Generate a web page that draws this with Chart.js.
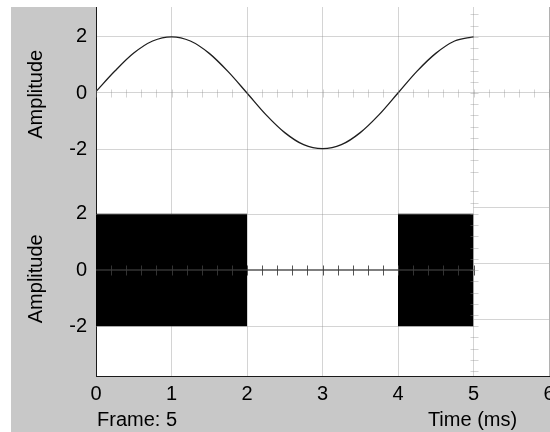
<!DOCTYPE html>
<html>
<head>
<meta charset="utf-8">
<script src="https://cdn.jsdelivr.net/npm/chart.js@4/dist/chart.umd.min.js"></script>
<style>
  html, body { margin: 0; padding: 0; background: #fff; }
  canvas { display: block; }
</style>
</head>
<body>
<canvas id="myChart" width="550" height="432"></canvas>
<script>
// axis ticks
const timeTicks = [0, 1, 2, 3, 4, 5, 6];
const ampTicks = [-2, 0, 2];

// upper trace, read every 0.25 ms
const sineTime = [0, 0.25, 0.5, 0.75, 1, 1.25, 1.5, 1.75, 2, 2.25, 2.5, 2.75, 3, 3.25, 3.5, 3.75, 4, 4.25, 4.5, 4.75, 5];
const sineAmp = [0.05, 0.78, 1.42, 1.85, 2, 1.85, 1.41, 0.76, 0, -0.77, -1.41, -1.84, -1.98, -1.84, -1.41, -0.77, 0, 0.77, 1.41, 1.85, 2];

// lower trace: bursts between start/end (ms), swinging +/- burstAmp
const burstStart = [0, 4];
const burstEnd = [2, 5];
const burstAmp = 2;
const baseTime = [0, 5];
const baseAmp = [0, 0];

const frameNo = 5;
const cursorTime = 5;
const frameShift = 0.25; // old frame grid on the right of the cursor

const gridColor = 'rgba(138,138,138,0.37)';
const traceGray = 'rgba(59,59,59,0.87)';
const fontFamily = '"Liberation Sans", Arial, sans-serif';

Chart.defaults.font.family = fontFamily;
Chart.defaults.font.size = 20;
Chart.defaults.color = '#000';

const sinePoints = sineTime.map((t, i) => ({x: t, y: sineAmp[i]}));
const burstPoints = [];
burstStart.forEach((s, i) => {
    if (i > 0) burstPoints.push({x: (burstEnd[i - 1] + s) / 2, y: null});
    burstPoints.push({x: s, y: burstAmp});
    burstPoints.push({x: burstEnd[i], y: burstAmp});
});
const basePoints = baseTime.map((t, i) => ({x: t, y: baseAmp[i]}));

const setTicks = list => s => { s.ticks = list.map(v => ({value: v})); };
const noPad = s => { s.paddingTop = 0; s.paddingBottom = 0; s.paddingLeft = 0; s.paddingRight = 0; };

const line = (ctx, x1, y1, x2, y2) => {
    ctx.beginPath();
    ctx.moveTo(x1, y1);
    ctx.lineTo(x2, y2);
    ctx.stroke();
};
const px = v => Math.round(v) + 0.5;

const scopePlugin = {
    id: 'scope',
    beforeDraw(chart) {
        const {ctx, chartArea: a} = chart;
        ctx.save();
        ctx.fillStyle = '#fff';
        ctx.fillRect(0, 0, chart.width, chart.height);
        ctx.fillStyle = '#c8c8c8';
        ctx.fillRect(11, 7, chart.width - 11, chart.height - 7);
        ctx.fillStyle = '#fff';
        ctx.fillRect(a.left, a.top, a.right - a.left, a.bottom - a.top);
        ctx.restore();
    },
    afterDatasetsDraw(chart) {
        const {ctx} = chart;
        const xs = chart.scales.x, yb = chart.scales.yBot;
        ctx.save();
        ctx.strokeStyle = gridColor;
        ctx.lineWidth = 1;
        const xc = xs.getPixelForValue(cursorTime);
        ampTicks.filter(v => v !== 0).forEach(v => {
            const y = px(yb.getPixelForValue(v));
            line(ctx, xs.getPixelForValue(0), y, xc, y);
        });
        ampTicks.forEach(v => {
            const y = px(yb.getPixelForValue(v + frameShift));
            line(ctx, xc, y, xs.right, y);
        });
        ctx.restore();
    },
    afterDraw(chart) {
        const {ctx, chartArea: a} = chart;
        const xs = chart.scales.x, yt = chart.scales.yTop, yb = chart.scales.yBot;
        ctx.save();
        ctx.lineWidth = 1;
        // small marks along the zero lines, every 0.2 ms
        ctx.strokeStyle = gridColor;
        let y0 = px(yt.getPixelForValue(0));
        for (let k = 0; k <= 30; k++) {
            const x = px(xs.getPixelForValue(k * 0.2));
            line(ctx, x, y0 - 4, x, y0 + 4);
        }
        ctx.strokeStyle = traceGray;
        y0 = px(yb.getPixelForValue(0));
        for (let k = 1; k <= 25; k++) {
            const x = px(xs.getPixelForValue(k * 0.2));
            line(ctx, x, y0 - 5, x, y0 + 5);
        }
        // marks along the cursor line, every 0.4
        ctx.strokeStyle = gridColor;
        const xc = px(xs.getPixelForValue(cursorTime));
        [yt, yb].forEach(s => {
            for (let k = Math.ceil(s.min / 0.4); k <= Math.floor(s.max / 0.4); k++) {
                const y = px(s.getPixelForValue(k * 0.4));
                line(ctx, xc - 4, y, xc + 4, y);
            }
        });
        // captions under the axis
        ctx.fillStyle = '#000';
        ctx.font = '20px ' + fontFamily;
        ctx.textBaseline = 'middle';
        ctx.textAlign = 'left';
        ctx.fillText('Frame: ' + frameNo, a.left + 1, 420);
        ctx.textAlign = 'center';
        ctx.fillText('Time (ms)', xs.getPixelForValue(cursorTime) - 1, 420);
        ctx.restore();
    }
};

const ctx = document.getElementById('myChart').getContext('2d');
let myChart = new Chart(ctx, {
    type: 'line',
    data: {
        datasets: [
            {
                label: 'Signal',
                data: sinePoints,
                yAxisID: 'yTop',
                borderColor: '#1e1e1e',
                borderWidth: 1.3,
                pointRadius: 0,
                cubicInterpolationMode: 'monotone',
                fill: false
            },
            {
                label: 'Baseline',
                data: basePoints,
                yAxisID: 'yBot',
                borderColor: traceGray,
                borderWidth: 1.5,
                pointRadius: 0,
                fill: false
            },
            {
                label: 'Burst',
                data: burstPoints,
                yAxisID: 'yBot',
                borderWidth: 0,
                borderColor: '#000',
                backgroundColor: '#000',
                pointRadius: 0,
                spanGaps: false,
                fill: {value: -burstAmp}
            }
        ]
    },
    options: {
        responsive: false,
        animation: false,
        devicePixelRatio: 1,
        layout: {autoPadding: false, padding: {left: 10, top: 7, right: 1, bottom: 0}},
        plugins: {legend: {display: false}, tooltip: {enabled: false}},
        scales: {
            x: {
                type: 'linear', min: 0, max: 6, z: 1,
                afterBuildTicks: setTicks(timeTicks),
                afterFit: s => { noPad(s); s.height = 56; },
                grid: {
                    color: c => (c.tick && c.tick.value === 0) ? 'rgba(0,0,0,0)' : gridColor,
                    drawTicks: false
                },
                border: {color: '#1a1a1a', width: 1},
                ticks: {padding: 6, maxRotation: 0}
            },
            yBot: {
                type: 'linear', position: 'left', stack: 'amp', stackWeight: 6.92,
                min: -3.77, max: 3.15,
                afterBuildTicks: setTicks(ampTicks),
                afterFit: s => { noPad(s); s.width = 86; },
                grid: {drawOnChartArea: false, drawTicks: false},
                border: {color: '#1a1a1a', width: 1},
                ticks: {padding: 9},
                title: {display: true, text: 'Amplitude', padding: {top: 14, bottom: 0}}
            },
            yTop: {
                type: 'linear', position: 'left', stack: 'amp', stackWeight: 6.21,
                min: -3.15, max: 3.06,
                afterBuildTicks: setTicks(ampTicks),
                afterFit: s => { noPad(s); s.width = 86; },
                grid: {color: gridColor, drawTicks: false},
                border: {color: '#1a1a1a', width: 1},
                ticks: {padding: 9},
                title: {display: true, text: 'Amplitude', padding: {top: 14, bottom: 0}}
            }
        }
    },
    plugins: [scopePlugin]
});
</script>
</body>
</html>
